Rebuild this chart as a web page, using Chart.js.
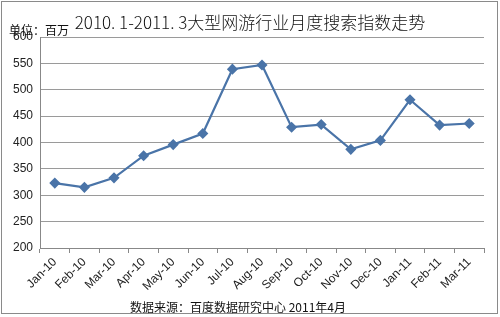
<!DOCTYPE html>
<html>
<head>
<meta charset="utf-8">
<script src="https://cdn.jsdelivr.net/npm/chart.js@4.4.1/dist/chart.umd.min.js"></script>
<style>
  html, body { margin: 0; padding: 0; background: #fff; }
  #wrap { width: 500px; height: 317px; position: relative; }
</style>
</head>
<body>
<div id="wrap"><canvas id="chart"></canvas></div>
<script>
// chart data
const months = ['Jan-10', 'Feb-10', 'Mar-10', 'Apr-10', 'May-10', 'Jun-10', 'Jul-10', 'Aug-10',
                'Sep-10', 'Oct-10', 'Nov-10', 'Dec-10', 'Jan-11', 'Feb-11', 'Mar-11'];
const searchIndex = [323, 315, 333, 375, 396, 417, 539, 547, 429, 434, 387, 404, 481, 433, 436];
const yMin = 200;
const yMax = 600;
const yStep = 50;

const titleText = '2010. 1-2011. 3大型网游行业月度搜索指数走势';
const unitText = '单位：百万';
const sourceText = '数据来源：百度数据研究中心 2011年4月';

const cjk = '"Noto Sans CJK SC", "Noto Sans", sans-serif';
const latin = '"Liberation Sans", Arial, sans-serif';

// texts and outer frame
const decorations = {
    id: 'decorations',
    afterDraw(chart) {
        const c = chart.ctx;
        c.save();
        c.strokeStyle = '#8a8a8a';
        c.lineWidth = 1;
        c.strokeRect(1.5, 1.5, 496, 312);

        c.fillStyle = '#111';
        c.textBaseline = 'middle';
        c.textAlign = 'center';
        c.font = '300 17px ' + cjk;
        c.fillText(titleText, 250, 23);

        c.textAlign = 'left';
        c.font = '12px ' + cjk;
        c.fillText(unitText, 9, 30);

        c.textAlign = 'center';
        c.fillText(sourceText, 238, 307);
        c.restore();
    }
};

new Chart(document.getElementById('chart'), {
    type: 'line',
    data: {
        labels: months,
        datasets: [{
            data: searchIndex,
            borderColor: '#4a74a8',
            backgroundColor: '#4a74a8',
            borderWidth: 2.2,
            pointStyle: 'rectRot',
            pointRadius: 4,
            pointHoverRadius: 4,
            tension: 0
        }]
    },
    options: {
        responsive: true,
        maintainAspectRatio: false,
        animation: false,
        layout: { padding: { left: 0, right: 16, top: 37, bottom: 0 } },
        plugins: {
            legend: { display: false },
            tooltip: { enabled: false }
        },
        scales: {
            x: {
                offset: true,
                afterFit: s => { s.height = 69; },
                grid: {
                    offset: true,
                    drawOnChartArea: false,
                    drawTicks: true,
                    tickLength: 5,
                    color: '#888'
                },
                border: { color: '#888', width: 1 },
                ticks: {
                    autoSkip: false,
                    maxRotation: 45,
                    minRotation: 45,
                    padding: 2,
                    color: '#222',
                    font: { family: latin, size: 12 }
                }
            },
            y: {
                min: yMin,
                max: yMax,
                afterFit: s => { s.width = 40; },
                grid: {
                    color: '#9a9a9a',
                    borderDash: [4, 3],
                    drawTicks: false
                },
                border: { color: '#888', width: 1 },
                ticks: {
                    stepSize: yStep,
                    padding: 7,
                    color: '#222',
                    font: { family: latin, size: 12 }
                }
            }
        }
    },
    plugins: [decorations]
});
</script>
</body>
</html>
